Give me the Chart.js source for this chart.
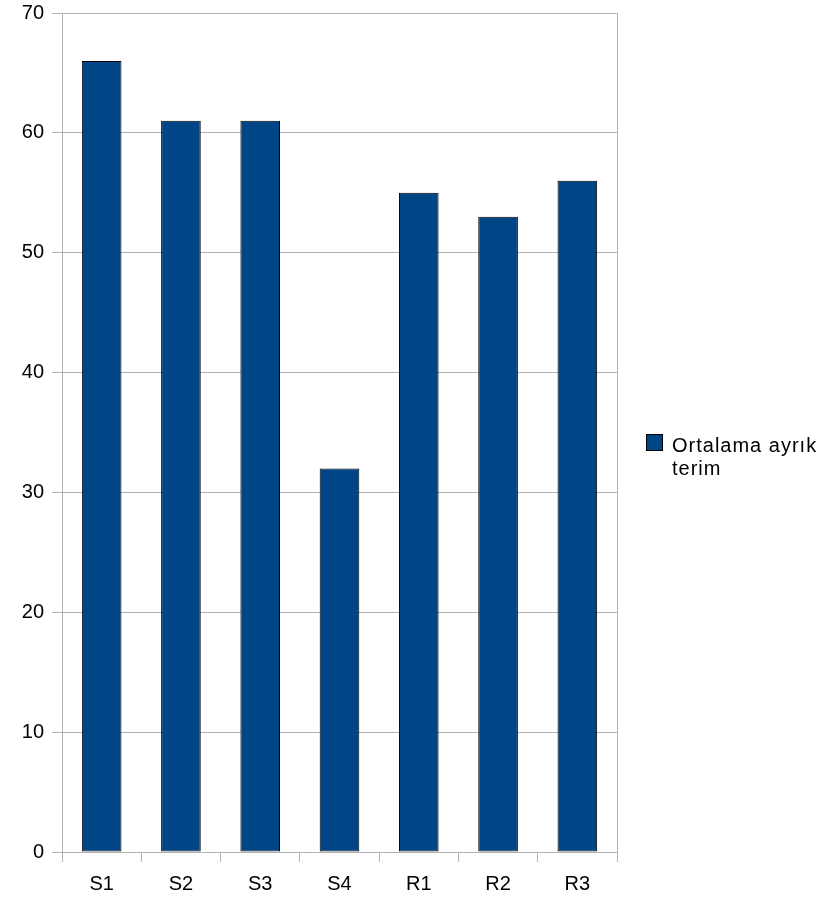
<!DOCTYPE html>
<html>
<head>
<meta charset="utf-8">
<script src="https://cdn.jsdelivr.net/npm/chart.js@4/dist/chart.umd.min.js"></script>
<style>
html,body{margin:0;padding:0;background:#fff;}
#wrap{position:relative;width:840px;height:897px;}
</style>
</head>
<body>
<div id="wrap"><canvas id="c" width="840" height="897"></canvas></div>
<script>
const categories = ["S1","S2","S3","S4","R1","R2","R3"];
const seriesName = ["Ortalama ayrık", "terim"];
const values = [66, 61, 61, 32, 55, 53, 56];
const yTicks = [0, 10, 20, 30, 40, 50, 60, 70];

const FONT = "'Liberation Sans', Arial, sans-serif";
const GRID = "#b3b3b3";
const BAR = "#004586";

const legendPlugin = {
  id: 'sideLegend',
  afterDraw(chart) {
    const ctx = chart.ctx;
    ctx.save();
    const x = 646, y = 434;
    ctx.fillStyle = BAR;
    ctx.fillRect(x, y, 17, 17);
    ctx.strokeStyle = "#000";
    ctx.lineWidth = 1;
    ctx.strokeRect(x + 0.5, y + 0.5, 16, 16);
    ctx.fillStyle = "#000";
    ctx.font = "20px " + FONT;
    try { ctx.letterSpacing = "1px"; } catch (e) {}
    ctx.textBaseline = "alphabetic";
    ctx.textAlign = "left";
    ctx.fillText(seriesName[0], 672, 452);
    ctx.fillText(seriesName[1], 672, 475);
    ctx.restore();
  }
};

new Chart(document.getElementById('c'), {
  type: 'bar',
  data: {
    labels: categories,
    datasets: [{
      label: seriesName.join(' '),
      data: values,
      backgroundColor: BAR,
      borderColor: '#000',
      borderWidth: 1,
      borderSkipped: false,
      categoryPercentage: 1.0,
      barPercentage: 0.5
    }]
  },
  options: {
    responsive: false,
    animation: false,
    devicePixelRatio: 1,
    layout: { padding: { top: 13, right: 223, bottom: 0, left: 0 } },
    plugins: { legend: { display: false }, tooltip: { enabled: false } },
    scales: {
      x: {
        afterFit: (s) => { s.height = 45; s.paddingLeft = 0; s.paddingRight = 0; },
        grid: { offset: true, drawOnChartArea: false, drawTicks: true, tickLength: 10, color: GRID, lineWidth: 1 },
        border: { color: GRID, width: 1 },
        ticks: { color: '#000', font: { family: FONT, size: 20 }, padding: 10 }
      },
      y: {
        min: 0, max: 70,
        afterFit: (s) => { s.width = 62; s.paddingTop = 0; s.paddingBottom = 0; },
        afterBuildTicks: (s) => { s.ticks = yTicks.map(v => ({ value: v })); },
        grid: { color: GRID, lineWidth: 1, tickLength: 10 },
        border: { color: GRID, width: 1 },
        ticks: { color: '#000', font: { family: FONT, size: 20 }, padding: 8 }
      },
      y2: {
        position: 'right',
        min: 0, max: 70,
        afterFit: (s) => { s.width = 0; s.paddingTop = 0; s.paddingBottom = 0; },
        grid: { drawOnChartArea: false, drawTicks: false },
        border: { color: GRID, width: 1 },
        ticks: { display: false }
      }
    }
  },
  plugins: [legendPlugin]
});
</script>
</body>
</html>
